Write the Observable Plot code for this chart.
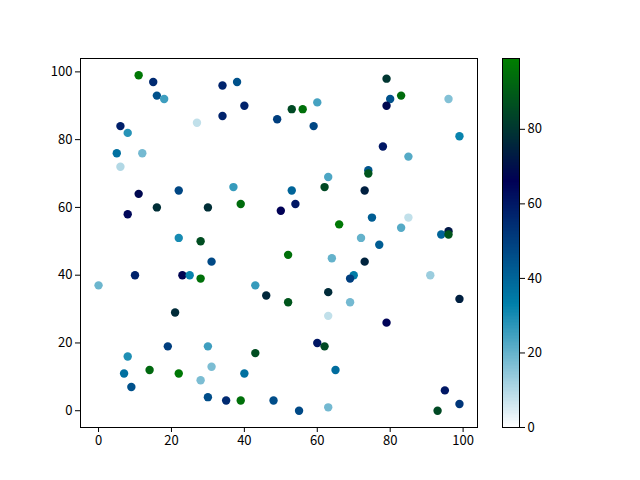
<!DOCTYPE html>
<html><head><meta charset="utf-8">
<script src="https://cdn.jsdelivr.net/npm/d3@7"></script>
<script src="https://cdn.jsdelivr.net/npm/@observablehq/plot@0.6"></script>
<style>
body{margin:0;background:#fff}
#c{position:relative;width:640px;height:480px}
#c svg{position:absolute;top:0}
</style>
</head><body><div id="c"></div>
<script>
const xs=[11,15,34,38,16,18,40,34,49,27,6,8,5,12,6,11,22,37,39,8,16,30,22,28,
79,80,83,79,96,60,53,56,59,99,78,85,74,74,63,62,73,53,50,54,75,66,85,83,72,77,96,94,96,
31,10,23,25,28,0,43,46,21,19,30,43,8,31,14,7,22,40,28,9,30,35,39,48,
52,64,73,70,69,91,63,52,69,99,63,79,60,62,65,55,63,95,93,99];
const ys=[99,97,96,97,93,92,90,87,86,85,84,82,76,76,72,64,65,66,61,58,60,60,51,50,
98,92,93,90,92,91,89,89,84,81,78,75,71,70,69,66,65,65,59,61,57,55,57,54,51,49,53,52,52,
44,40,40,40,39,37,37,34,29,19,19,17,16,13,12,11,11,11,9,7,4,3,3,3,
46,45,44,40,39,40,35,32,32,33,28,26,20,19,12,0,1,6,0,2];
const cs=[97,55,57,45,45,25,57,57,50,8,58,28,37,18,10,68,48,26,94,64,78,78,30,86,
80,45,94,68,16,24,85,95,48,32,60,22,44,88,23,85,74,40,66,60,42,97,8,22,20,42,72,40,88,
47,57,67,32,95,19,26,76,77,50,25,86,29,17,93,37,97,37,17,45,46,55,95,46,
95,20,75,34,50,13,77,88,18,74,8,65,60,85,38,47,18,60,85,52];
const colorDomain=[0,99];
const xTicks=[0,20,40,60,80,100];
const yTicks=[0,20,40,60,80,100];
const cbTicks=[0,20,40,60,80];

function oceanR(t){
  const x=1-t;
  const cl=v=>Math.min(1,Math.max(0,v));
  const r=cl(3*x-2), g=cl(Math.abs((3*x-1)/2)), b=cl(x);
  return `rgb(${Math.round(r*255)},${Math.round(g*255)},${Math.round(b*255)})`;
}
const data=xs.map((x,i)=>({x,y:ys[i],c:cs[i]}));
const colorScale={type:"linear",domain:colorDomain,interpolate:oceanR};
const font={fontFamily:"'Noto Sans CJK SC','Noto Sans',sans-serif",fontSize:"13px",color:"black",background:"transparent",overflow:"visible"};

const main=Plot.plot({
  width:500,height:480,marginLeft:80,marginRight:23,marginTop:58,marginBottom:53,
  x:{domain:[-4.95,103.95]},y:{domain:[-4.95,103.95]},
  color:colorScale,style:font,
  marks:[
    Plot.dot(data,{x:"x",y:"y",fill:"c",r:4.2}),
    Plot.frame({stroke:"black"}),
    Plot.axisX({ticks:xTicks,tickSize:5,tickPadding:3,label:null}),
    Plot.axisY({ticks:yTicks,tickSize:5,tickPadding:3,label:null})
  ]
});
main.style.left="0px";

const steps=d3.range(256);
const dv=(colorDomain[1]-colorDomain[0])/256;
const cb=Plot.plot({
  width:150,height:480,marginLeft:12,marginRight:121,marginTop:58,marginBottom:53,
  x:{domain:[0,1],axis:null},y:{domain:colorDomain},
  color:colorScale,style:font,
  marks:[
    Plot.rect(steps,{x1:0,x2:1,y1:i=>colorDomain[0]+i*dv,
      y2:i=>Math.min(colorDomain[1],colorDomain[0]+(i+1.8)*dv),
      fill:i=>colorDomain[0]+(i+0.5)*dv,shapeRendering:"crispEdges"}),
    Plot.frame({stroke:"black"}),
    Plot.axisY({anchor:"right",ticks:cbTicks,tickSize:5,tickPadding:3,label:null})
  ]
});
cb.style.left="490px";
const c=document.getElementById("c");
c.appendChild(main);c.appendChild(cb);
</script>
</body></html>
